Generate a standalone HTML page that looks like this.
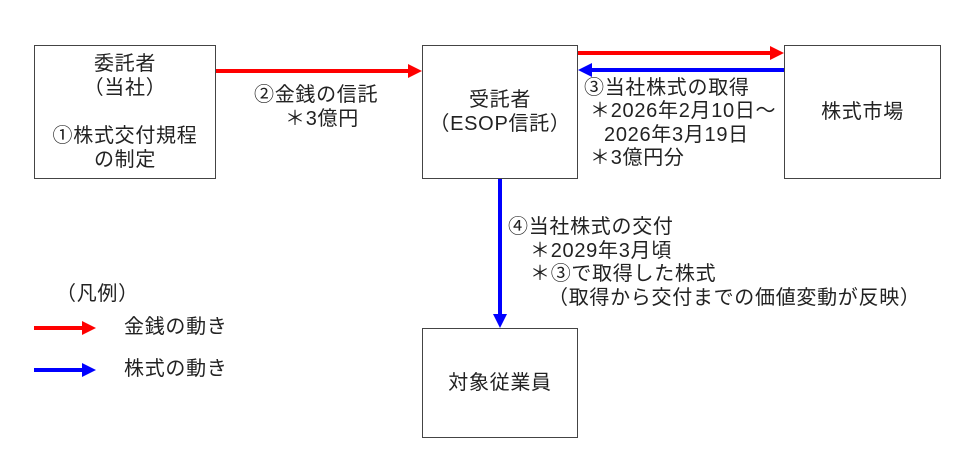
<!DOCTYPE html>
<html><head><meta charset="utf-8"><style>
body{margin:0;width:975px;height:470px;background:#fff;position:relative;overflow:hidden;font-family:"Liberation Sans","Noto Sans CJK JP",sans-serif;color:#222;font-size:20px;letter-spacing:0.7px;}
.b{position:absolute;border:1.3px solid #444;box-sizing:border-box;display:flex;flex-direction:column;justify-content:center;align-items:center;text-align:center;line-height:24px;}
.t{position:absolute;line-height:23.5px;white-space:pre;}
svg{position:absolute;left:0;top:0;}
</style></head><body>
<svg width="975" height="470">
<line x1="215" y1="71" x2="410" y2="71" stroke="#f00" stroke-width="4"/><polygon points="408,64 422,71 408,78" fill="#f00"/>
<line x1="577" y1="53" x2="772" y2="53" stroke="#f00" stroke-width="4"/><polygon points="770,46 784,53 770,60" fill="#f00"/>
<line x1="784" y1="70" x2="590" y2="70" stroke="#00f" stroke-width="4"/><polygon points="592,63 578,70 592,77" fill="#00f"/>
<line x1="500" y1="178" x2="500" y2="316" stroke="#00f" stroke-width="4"/><polygon points="493,314 500,328 507,314" fill="#00f"/>
<line x1="34" y1="328" x2="84" y2="328" stroke="#f00" stroke-width="4"/><polygon points="82,321 96,328 82,335" fill="#f00"/>
<line x1="34" y1="370" x2="84" y2="370" stroke="#00f" stroke-width="4"/><polygon points="82,363 96,370 82,377" fill="#00f"/>
</svg>
<div class="b" style="left:34px;top:45px;width:182px;height:134px">委託者<br>（当社）<br><br>①株式交付規程<br>の制定</div>
<div class="b" style="left:422px;top:45px;width:156px;height:134px">受託者<br>（ESOP信託）</div>
<div class="b" style="left:784px;top:45px;width:157px;height:134px">株式市場</div>
<div class="b" style="left:422px;top:328px;width:156px;height:110px">対象従業員</div>
<div class="t" style="left:254px;top:84px">②金銭の信託</div>
<div class="t" style="left:285px;top:108px">＊3億円</div>
<div class="t" style="left:584px;top:77px">③当社株式の取得</div>
<div class="t" style="left:590px;top:100px">＊2026年2月10日～</div>
<div class="t" style="left:604px;top:124px">2026年3月19日</div>
<div class="t" style="left:590px;top:147px">＊3億円分</div>
<div class="t" style="left:508px;top:216px">④当社株式の交付</div>
<div class="t" style="left:530px;top:240px">＊2029年3月頃</div>
<div class="t" style="left:530px;top:263px">＊③で取得した株式</div>
<div class="t" style="left:548px;top:287px">（取得から交付までの価値変動が反映）</div>
<div class="t" style="left:56px;top:283px">（凡例）</div>
<div class="t" style="left:124px;top:316px">金銭の動き</div>
<div class="t" style="left:124px;top:358px">株式の動き</div>
</body></html>
